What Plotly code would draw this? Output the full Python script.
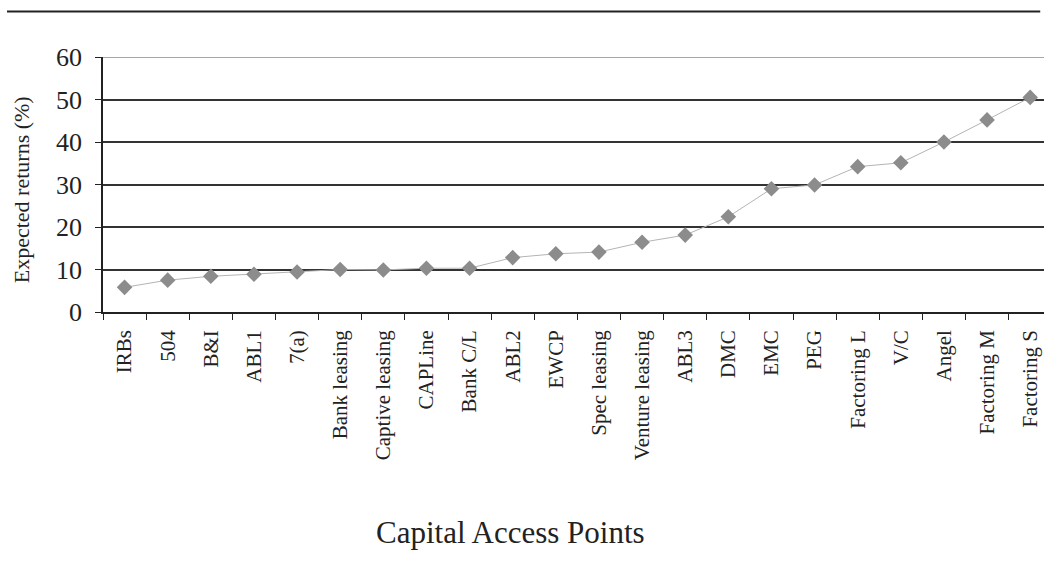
import plotly.graph_objects as go

categories = ["IRBs", "504", "B&I", "ABL1", "7(a)", "Bank leasing", "Captive leasing",
              "CAPLine", "Bank C/L", "ABL2", "EWCP", "Spec leasing", "Venture leasing",
              "ABL3", "DMC", "EMC", "PEG", "Factoring L", "V/C", "Angel",
              "Factoring M", "Factoring S"]
returns = [5.8, 7.5, 8.4, 8.9, 9.4, 10.0, 9.9, 10.3, 10.3, 12.8, 13.7, 14.1, 16.4,
           18.1, 22.4, 29.0, 29.9, 34.2, 35.1, 40.0, 45.2, 50.5]
y_ticks = [0, 10, 20, 30, 40, 50, 60]

FONT = "Liberation Serif"
INK = "#222222"

fig = go.Figure()
fig.add_trace(go.Scatter(
    x=categories, y=returns, mode="lines+markers",
    line=dict(color="#b4b4b4", width=1),
    marker=dict(symbol="diamond", size=12, color="#8c8c8c"),
    showlegend=False, hoverinfo="x+y",
))

fig.update_layout(
    width=1044, height=578,
    margin=dict(l=103, r=0, t=57, b=266),
    plot_bgcolor="white", paper_bgcolor="white",
    font=dict(family=FONT, color=INK),
    xaxis=dict(
        type="category", range=[-0.5, 21.32],
        tickson="boundaries", ticks="outside", ticklen=6, tickcolor=INK,
        tickangle=-90, tickfont=dict(family=FONT, size=21, color=INK),
        ticklabelstandoff=8,
        showline=True, linecolor=INK, linewidth=1.5,
        showgrid=False, zeroline=False,
    ),
    yaxis=dict(
        range=[0, 60], tickvals=y_ticks, ticks="outside", ticklen=6, tickcolor=INK,
        tickfont=dict(family=FONT, size=26, color=INK),
        ticklabelstandoff=8,
        showline=True, linecolor=INK, linewidth=1.5,
        showgrid=True, gridcolor="#333333", gridwidth=1.5, zeroline=False,
    ),
    annotations=[
        dict(text="Expected returns (%)", xref="paper", yref="paper",
             x=-0.087, y=0.478, xanchor="center", yanchor="middle", textangle=-90,
             showarrow=False, font=dict(family=FONT, size=22, color=INK)),
        dict(text="Capital Access Points", xref="paper", yref="paper",
             x=0.433, y=-0.863, xanchor="center", yanchor="middle",
             showarrow=False, font=dict(family=FONT, size=31, color=INK)),
    ],
)

# light grey line at the top of the value range
fig.add_shape(type="line", xref="paper", yref="y", x0=0, x1=1, y0=60, y1=60,
              line=dict(color="#8a8a8a", width=1.5))
# decorative rule at the top of the page
fig.add_shape(type="line", xref="paper", yref="paper",
              x0=-0.102, x1=0.996, y0=1.178, y1=1.178,
              line=dict(color=INK, width=2))

fig.write_html("out.html")
